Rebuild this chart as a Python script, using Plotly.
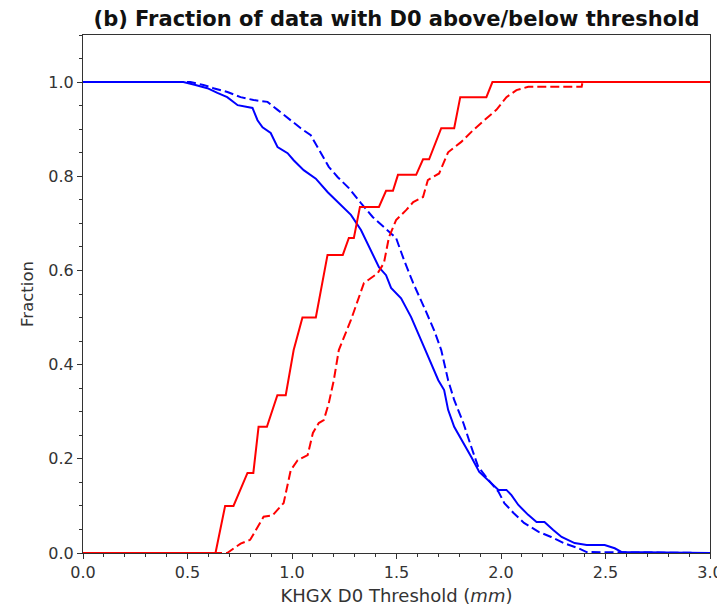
import plotly.graph_objects as go

# Red solid: fraction below threshold (solid)
red_solid_x = [0.0, 0.634, 0.68, 0.72, 0.787, 0.815, 0.84, 0.88, 0.93, 0.97, 1.008, 1.05, 1.114,
               1.17, 1.243, 1.272, 1.296, 1.325, 1.416, 1.45, 1.483, 1.507, 1.594, 1.627, 1.656,
               1.714, 1.776, 1.805, 1.93, 1.959, 3.0]
red_solid_y = [0.0, 0.0, 0.10, 0.10, 0.17, 0.17, 0.268, 0.268, 0.335, 0.335, 0.431, 0.50, 0.50,
               0.633, 0.633, 0.669, 0.669, 0.735, 0.735, 0.769, 0.769, 0.803, 0.803, 0.836, 0.836,
               0.902, 0.902, 0.968, 0.968, 1.0, 1.0]

# Red dashed
red_dash_x = [0.0, 0.69, 0.754, 0.80, 0.864, 0.907, 0.96, 0.994, 1.027, 1.075, 1.1, 1.128, 1.152,
              1.176, 1.2, 1.224, 1.282, 1.344, 1.41, 1.44, 1.464, 1.498, 1.546, 1.58, 1.627, 1.65,
              1.704, 1.747, 1.81, 1.867, 1.92, 1.978, 2.026, 2.074, 2.13, 2.386, 2.39, 3.0]
red_dash_y = [0.0, 0.0, 0.02, 0.028, 0.077, 0.08, 0.106, 0.176, 0.197, 0.208, 0.255, 0.276, 0.282,
              0.318, 0.367, 0.431, 0.495, 0.573, 0.594, 0.616, 0.671, 0.707, 0.728, 0.745, 0.756, 0.792,
              0.806, 0.851, 0.873, 0.898, 0.919, 0.941, 0.968, 0.983, 0.99, 0.99, 1.0, 1.0]

# Blue solid: fraction above threshold
blue_solid_x = [0.0, 0.48, 0.538, 0.595, 0.643, 0.69, 0.74, 0.811, 0.835, 0.859, 0.898, 0.931, 0.979,
                1.008, 1.056, 1.114, 1.171, 1.224, 1.282, 1.33, 1.368, 1.416, 1.45, 1.474, 1.522,
                1.57, 1.632, 1.70, 1.728, 1.747, 1.776, 1.82, 1.858, 1.896, 1.944, 1.988, 2.026,
                2.05, 2.083, 2.13, 2.17, 2.208, 2.25, 2.29, 2.352, 2.41, 2.496, 2.544, 2.578, 3.0]
blue_solid_y = [1.0, 1.0, 0.994, 0.987, 0.977, 0.968, 0.951, 0.945, 0.919, 0.904, 0.892, 0.862, 0.849,
                0.834, 0.813, 0.795, 0.766, 0.743, 0.718, 0.686, 0.65, 0.607, 0.59, 0.563, 0.541,
                0.501, 0.437, 0.367, 0.346, 0.304, 0.268, 0.234, 0.204, 0.172, 0.151, 0.134, 0.134,
                0.123, 0.102, 0.081, 0.066, 0.066, 0.049, 0.034, 0.021, 0.017, 0.017, 0.01, 0.002, 0.0]

# Blue dashed
blue_dash_x = [0.0, 0.514, 0.576, 0.624, 0.691, 0.754, 0.816, 0.883, 0.931, 0.979, 1.042, 1.09, 1.138,
               1.176, 1.219, 1.272, 1.33, 1.387, 1.44, 1.498, 1.536, 1.58, 1.632, 1.68, 1.714,
               1.747, 1.776, 1.82, 1.858, 1.891, 1.94, 1.988, 2.016, 2.06, 2.11, 2.18, 2.24, 2.30,
               2.37, 2.41, 3.0]
blue_dash_y = [1.0, 1.0, 0.994, 0.987, 0.979, 0.968, 0.962, 0.958, 0.941, 0.924, 0.902, 0.887, 0.851,
               0.82, 0.798, 0.775, 0.743, 0.713, 0.692, 0.669, 0.622, 0.573, 0.522, 0.473, 0.431,
               0.367, 0.325, 0.276, 0.225, 0.183, 0.155, 0.13, 0.106, 0.085, 0.064, 0.045, 0.034, 0.021,
               0.01, 0.002, 0.0]

x_ticks = [0.0, 0.5, 1.0, 1.5, 2.0, 2.5, 3.0]
x_tick_labels = ["0.0", "0.5", "1.0", "1.5", "2.0", "2.5", "3.0"]
y_ticks = [0.0, 0.2, 0.4, 0.6, 0.8, 1.0]
y_tick_labels = ["0.0", "0.2", "0.4", "0.6", "0.8", "1.0"]

DASH = "9px,4px"
fig = go.Figure()
fig.add_trace(go.Scatter(x=blue_solid_x, y=blue_solid_y, mode="lines",
                         line=dict(color="#0000ff", width=2)))
fig.add_trace(go.Scatter(x=blue_dash_x, y=blue_dash_y, mode="lines",
                         line=dict(color="#0000ff", width=2, dash=DASH)))
fig.add_trace(go.Scatter(x=red_solid_x, y=red_solid_y, mode="lines",
                         line=dict(color="#ff0000", width=2)))
fig.add_trace(go.Scatter(x=red_dash_x, y=red_dash_y, mode="lines",
                         line=dict(color="#ff0000", width=2, dash=DASH)))

font_family = "DejaVu Sans"
axis_common = dict(showline=True, linecolor="#333333", linewidth=1.2, mirror=True,
                   ticks="outside", ticklen=5, tickwidth=1, tickcolor="#333333",
                   showgrid=False, zeroline=False, automargin=False,
                   tickfont=dict(family=font_family, size=16, color="#333333"))

# The page body adds an 8px margin, so the figure is sized 8px smaller
fig.update_layout(
    width=717, height=605,
    margin=dict(l=75, r=15, t=27, b=60, autoexpand=False),
    paper_bgcolor="white", plot_bgcolor="white",
    showlegend=False,
    title=dict(text="<b>(b) Fraction of data with D0 above/below threshold</b>",
               x=0.5, xref="paper", xanchor="center", y=0.982, yanchor="middle",
               automargin=False,
               font=dict(family=font_family, size=21, color="#111111")),
    xaxis=dict(range=[0, 3.0], tickvals=x_ticks, ticktext=x_tick_labels,
               minor=dict(dtick=0.1, ticks="outside", ticklen=2.5, tickcolor="#333333"),
               title=dict(text="KHGX D0 Threshold (<i>mm</i>)", standoff=8,
                          font=dict(family=font_family, size=18, color="#333333")),
               **axis_common),
    yaxis=dict(range=[0, 1.1], tickvals=y_ticks, ticktext=y_tick_labels,
               minor=dict(dtick=0.05, ticks="outside", ticklen=2.5, tickcolor="#333333"),
               title=dict(text="Fraction", standoff=10,
                          font=dict(family=font_family, size=16.5, color="#333333")),
               **axis_common),
)

fig.write_html("out.html")
